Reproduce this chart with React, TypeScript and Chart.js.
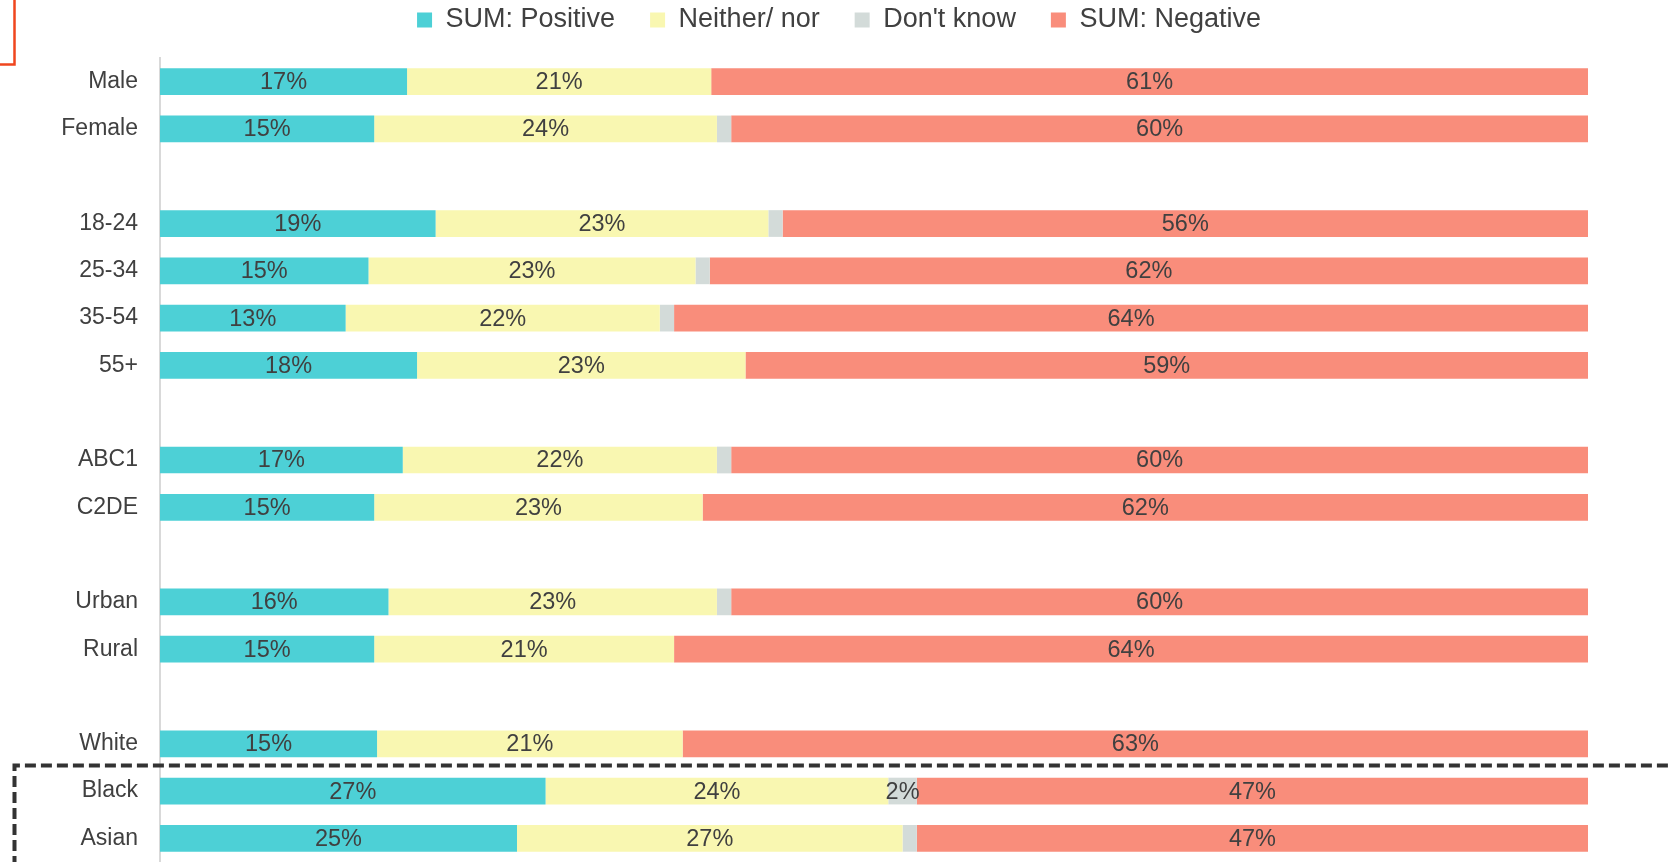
import React, { useEffect, useRef } from "react";
import { Chart, registerables } from "chart.js";

Chart.register(...registerables);

const categories = [
  "Male", "Female", "",
  "18-24", "25-34", "35-54", "55+", "",
  "ABC1", "C2DE", "",
  "Urban", "Rural", "",
  "White", "Black", "Asian",
];

const positive = [17.3, 15.0, null, 19.3, 14.6, 13.0, 18.0, null, 17.0, 15.0, null, 16.0, 15.0, null, 15.2, 27.0, 25.0];
const neither = [21.3, 24.0, null, 23.3, 22.9, 22.0, 23.0, null, 22.0, 23.0, null, 23.0, 21.0, null, 21.4, 24.0, 27.0];
const dontKnow = [0, 1.0, null, 1.0, 1.0, 1.0, 0, null, 1.0, 0, null, 1.0, 0, null, 0, 2.0, 1.0];
const negative = [61.4, 60.0, null, 56.4, 61.5, 64.0, 59.0, null, 60.0, 62.0, null, 60.0, 64.0, null, 63.4, 47.0, 47.0];

const seriesNames = ["SUM: Positive", "Neither/ nor", "Don't know", "SUM: Negative"];
const seriesColors = ["#4dd0d6", "#f9f7b1", "#d3dbd9", "#f98d7b"];

const FONT = "'Liberation Sans', Arial, sans-serif";
const TEXT = "#404040";

const labelPlugin = {
  id: "segLabels",
  afterDatasetsDraw(chart: any) {
    const ctx = chart.ctx;
    ctx.save();
    ctx.font = `23.5px ${FONT}`;
    ctx.fillStyle = TEXT;
    ctx.textAlign = "center";
    ctx.textBaseline = "middle";
    chart.data.datasets.forEach((ds: any, di: number) => {
      const meta = chart.getDatasetMeta(di);
      meta.data.forEach((bar: any, i: number) => {
        const v = ds.data[i];
        if (v == null || v < 1.5) return;
        const cx = (bar.x + bar.base) / 2;
        ctx.fillText(Math.round(v) + "%", cx, bar.y + 1);
      });
    });
    ctx.restore();
  },
};

const decorPlugin = {
  id: "decor",
  afterDraw(chart: any) {
    const ctx = chart.ctx;
    const y = chart.scales.y;
    ctx.save();
    // red corner frame (top-left)
    ctx.strokeStyle = "#f0461e";
    ctx.lineWidth = 2.5;
    ctx.beginPath();
    ctx.moveTo(14.5, -5);
    ctx.lineTo(14.5, 64.5);
    ctx.lineTo(-5, 64.5);
    ctx.stroke();
    // dashed frame around Black / Asian
    const iBlack = categories.indexOf("Black");
    const top = (y.getPixelForValue(iBlack - 1) + y.getPixelForValue(iBlack)) / 2 - 2;
    ctx.strokeStyle = "#333333";
    ctx.lineWidth = 4;
    ctx.setLineDash([11, 5]);
    ctx.beginPath();
    ctx.moveTo(14.5, chart.height + 5);
    ctx.lineTo(14.5, top);
    ctx.lineTo(chart.width + 5, top);
    ctx.stroke();
    ctx.restore();
  },
};

export default function App() {
  const ref = useRef<HTMLCanvasElement>(null);

  useEffect(() => {
    if (!ref.current) return;
    const values = [positive, neither, dontKnow, negative];
    const chart = new Chart(ref.current, {
      type: "bar",
      data: {
        labels: categories,
        datasets: seriesNames.map((name, k) => ({
          label: name,
          data: values[k],
          backgroundColor: seriesColors[k],
          borderWidth: 0,
          barPercentage: 0.565,
          categoryPercentage: 1,
        })),
      },
      options: {
        indexAxis: "y",
        responsive: false,
        animation: false,
        devicePixelRatio: 1,
        layout: { padding: { top: -28.5, left: 9, right: 0, bottom: 0 } },
        plugins: {
          legend: {
            position: "top",
            fullSize: true,
            labels: {
              font: { size: 27, family: FONT },
              color: TEXT,
              boxWidth: 15,
              boxHeight: 15,
              padding: 35,
            },
          },
          tooltip: { enabled: false },
        },
        scales: {
          x: {
            stacked: true,
            min: 0,
            max: 100,
            display: false,
          },
          x2: {
            type: "linear",
            axis: "x",
            position: "top",
            display: true,
            ticks: { display: false },
            grid: { display: false, drawTicks: false },
            border: { display: false },
            afterFit: (s: any) => { s.height = 14.5; },
          },
          y: {
            stacked: true,
            grid: { display: false, drawTicks: false },
            border: { display: true, color: "#d9d9d9", width: 2 },
            ticks: {
              padding: 22,
              color: TEXT,
              font: { size: 23, family: FONT },
              autoSkip: false,
            },
            afterFit: (s: any) => {
              s.width = 151;
              s.paddingTop = 0;
              s.paddingBottom = 0;
            },
          },
          y2: {
            type: "linear",
            axis: "y",
            position: "right",
            display: true,
            ticks: { display: false },
            grid: { display: false, drawTicks: false },
            border: { display: false },
            afterFit: (s: any) => { s.width = 81; s.paddingTop = 0; s.paddingBottom = 0; },
          },
        },
      } as any,
      plugins: [labelPlugin, decorPlugin],
    });
    return () => chart.destroy();
  }, []);

  return (
    <div style={{ position: "absolute", left: 0, top: 0, width: 1669, height: 862, background: "#fff" }}>
      <canvas ref={ref} width={1669} height={862} style={{ display: "block" }} />
    </div>
  );
}
